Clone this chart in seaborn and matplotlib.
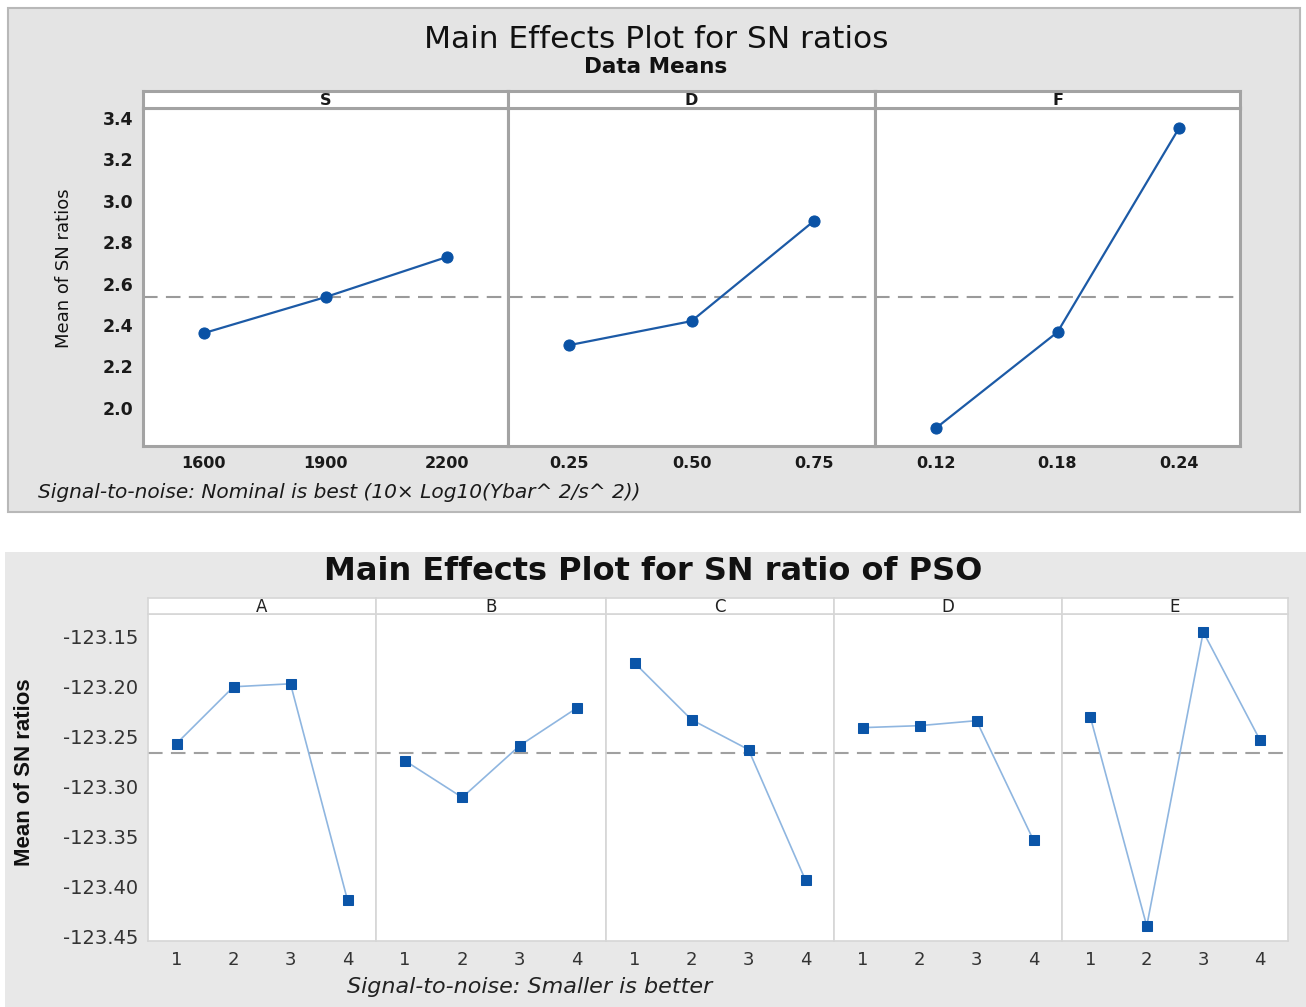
import matplotlib
matplotlib.use("Agg")
import matplotlib.pyplot as plt
from matplotlib.patches import Rectangle
import seaborn as sns
import pandas as pd

# ---------------- data ----------------
top_factors = ["S", "D", "F"]
top_levels = [["1600", "1900", "2200"], ["0.25", "0.50", "0.75"], ["0.12", "0.18", "0.24"]]
top_S = [2.361, 2.535, 2.729]
top_D = [2.303, 2.419, 2.902]
top_F = [1.902, 2.366, 3.352]
top_values = [top_S, top_D, top_F]
top_mean = 2.535
top_yticks = [2.0, 2.2, 2.4, 2.6, 2.8, 3.0, 3.2, 3.4]

bot_factors = ["A", "B", "C", "D", "E"]
bot_levels = ["1", "2", "3", "4"]
bot_A = [-123.257, -123.200, -123.197, -123.414]
bot_B = [-123.274, -123.311, -123.259, -123.221]
bot_C = [-123.176, -123.233, -123.263, -123.394]
bot_D = [-123.241, -123.239, -123.234, -123.354]
bot_E = [-123.230, -123.440, -123.145, -123.253]
bot_values = [bot_A, bot_B, bot_C, bot_D, bot_E]
bot_mean = -123.266
bot_yticks = [-123.15, -123.20, -123.25, -123.30, -123.35, -123.40, -123.45]

# ---------------- figure ----------------
sns.set_theme(style="white")
plt.rcParams["font.family"] = ["DejaVu Sans"]
W, H = 1306, 1007
fig = plt.figure(figsize=(W / 100, H / 100), dpi=100)
fig.patch.set_facecolor("white")


def box(x0, y0, x1, y1):
    return [x0 / W, 1 - y1 / H, (x1 - x0) / W, (y1 - y0) / H]


# background panels
fig.patches.append(Rectangle((8 / W, 1 - 512 / H), (1300 - 8) / W, (512 - 8) / H,
                             transform=fig.transFigure, facecolor="#e4e4e4",
                             edgecolor="#b8b8b8", lw=1.5, zorder=-5))
fig.patches.append(Rectangle((5 / W, 0), (1306 - 5) / W, (1007 - 552) / H,
                             transform=fig.transFigure, facecolor="#e8e8e8",
                             edgecolor="none", lw=0, zorder=-5))

# ---------------- top chart ----------------
top_edges = [143, 508, 875, 1240]
ty0, tstrip, ty1 = 91, 108, 446
for i, fac in enumerate(top_factors):
    x0, x1 = top_edges[i], top_edges[i + 1]
    ax = fig.add_axes(box(x0, tstrip, x1, ty1))
    ax.set_facecolor("white")
    df = pd.DataFrame({"level": top_levels[i], "value": top_values[i]})
    sns.lineplot(data=df, x="level", y="value", ax=ax, sort=False, color="#1c5aa6",
                 lw=1.6, marker="o", markersize=8, markerfacecolor="#0a52a5",
                 markeredgecolor="#0a52a5", zorder=3)
    ax.axhline(top_mean, color="#9a9a9a", lw=1.5, dashes=(7, 4), zorder=2)
    ax.set_xlim(-0.5, 2.5)
    ax.set_ylim(1.816, 3.448)
    ax.set_yticks(top_yticks)
    ax.set_xlabel("")
    ax.set_ylabel("")
    for s in ax.spines.values():
        s.set_color("#a3a3a3")
        s.set_linewidth(2.2)
    ax.tick_params(axis="x", length=4, width=1, color="#a0a0a0", pad=3,
                   labelsize=11.5, labelcolor="#1a1a1a")
    for lab in ax.get_xticklabels():
        lab.set_fontweight("bold")
    if i == 0:
        ax.tick_params(axis="y", length=4, width=1, color="#a0a0a0", pad=3,
                       labelsize=12.5, labelcolor="#1a1a1a")
        ax.set_yticklabels([f"{v:.1f}" for v in top_yticks], fontweight="bold")
    else:
        ax.tick_params(axis="y", length=0, labelleft=False)
    # strip
    sax = fig.add_axes(box(x0, ty0, x1, tstrip))
    sax.set_facecolor("white")
    sax.set_xticks([])
    sax.set_yticks([])
    for s in sax.spines.values():
        s.set_color("#a3a3a3")
        s.set_linewidth(2.2)
    sax.text(0.5, 0.45, fac, ha="center", va="center", fontsize=11.5,
             fontweight="bold", color="#1a1a1a", transform=sax.transAxes)

fig.text(656 / W, 1 - 39 / H, "Main Effects Plot for SN ratios", ha="center",
         va="center", fontsize=22.5, color="#111111")
fig.text(656 / W, 1 - 67 / H, "Data Means", ha="center", va="center",
         fontsize=15.5, fontweight="bold", color="#111111")
fig.text(64 / W, 1 - 268 / H, "Mean of SN ratios", ha="center", va="center",
         rotation=90, fontsize=13, color="#111111")
fig.text(38 / W, 1 - 492 / H,
         "Signal-to-noise: Nominal is best (10\u00d7 Log10(Ybar^ 2/s^ 2))",
         ha="left", va="center", fontsize=14.5, style="italic", color="#1a1a1a")

# ---------------- bottom chart ----------------
bot_edges = [148, 376, 606, 834, 1062, 1288]
by0, bstrip, by1 = 598, 614, 941
for i, fac in enumerate(bot_factors):
    x0, x1 = bot_edges[i], bot_edges[i + 1]
    ax = fig.add_axes(box(x0, bstrip, x1, by1))
    ax.set_facecolor("white")
    df = pd.DataFrame({"level": bot_levels, "value": bot_values[i]})
    sns.lineplot(data=df, x="level", y="value", ax=ax, sort=False, color="#8fb6e0",
                 lw=1.2, marker="s", markersize=7, markerfacecolor="#0b55a8",
                 markeredgecolor="#0b55a8", zorder=3)
    ax.axhline(bot_mean, color="#a0a0a0", lw=1.5, dashes=(7, 4), zorder=2)
    ax.set_xlim(-0.5, 3.5)
    ax.set_ylim(-123.455, -123.127)
    ax.set_yticks(bot_yticks)
    ax.set_xlabel("")
    ax.set_ylabel("")
    for s in ax.spines.values():
        s.set_color("#d6d6d6")
        s.set_linewidth(1.2)
    ax.tick_params(axis="x", length=4, width=1, color="#c8c8c8", pad=3,
                   labelsize=13, labelcolor="#333333")
    if i == 0:
        ax.tick_params(axis="y", length=4, width=1, color="#c8c8c8", pad=3,
                       labelsize=14, labelcolor="#333333")
        ax.set_yticklabels([f"{v:.2f}" for v in bot_yticks])
    else:
        ax.tick_params(axis="y", length=0, labelleft=False)
    sax = fig.add_axes(box(x0, by0, x1, bstrip))
    sax.set_facecolor("white")
    sax.set_xticks([])
    sax.set_yticks([])
    for s in sax.spines.values():
        s.set_color("#d6d6d6")
        s.set_linewidth(1.2)
    sax.text(0.5, 0.45, fac, ha="center", va="center", fontsize=12,
             color="#222222", transform=sax.transAxes)

fig.text(653 / W, 1 - 571 / H, "Main Effects Plot for SN ratio of PSO", ha="center",
         va="center", fontsize=23, fontweight="bold", color="#111111")
fig.text(25 / W, 1 - 772 / H, "Mean of SN ratios", ha="center", va="center",
         rotation=90, fontsize=16, color="#111111", fontweight="bold",
         family=["Liberation Sans"])
fig.text(530 / W, 1 - 987 / H, "Signal-to-noise: Smaller is better", ha="center",
         va="center", fontsize=16, style="italic", color="#222222")

fig.savefig("out.png", dpi=100, facecolor="white")
